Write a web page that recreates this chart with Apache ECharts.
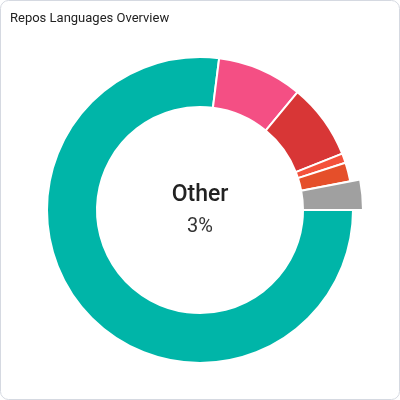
<!DOCTYPE html>
<html>
<head>
<meta charset="utf-8">
<script src="https://cdn.jsdelivr.net/npm/echarts@6/dist/echarts.min.js"></script>
<style>
html,body{margin:0;padding:0;background:#fff;}
#c{width:400px;height:400px;}
</style>
</head>
<body>
<div id="c"></div>
<script>
const categories = ['Python', 'Ruby', 'Scala', 'HTML', 'Java', 'Other'];
const values = [77, 9, 8, 1, 2, 3];
const colors = ['#00b5a8', '#f44f84', '#d83636', '#f4513b', '#e54f2a', '#a0a0a0'];
const highlightIndex = 5;

const chart = echarts.init(document.getElementById('c'), null, {renderer: 'canvas'});
chart.setOption({
  animation: false,
  title: {
    text: 'Repos Languages Overview',
    left: 5, top: 7,
    textStyle: {fontFamily: 'Roboto', fontSize: 13, fontWeight: 'normal', color: '#222'}
  },
  graphic: [{
    type: 'rect', silent: true,
    shape: {x: 0.5, y: 0.5, width: 399, height: 399, r: 8},
    style: {fill: 'none', stroke: '#d5d9e1', lineWidth: 1}
  }],
  series: [{
    type: 'pie',
    center: [200, 210],
    radius: [103, 153],
    startAngle: 0,
    clockwise: true,
    avoidLabelOverlap: false,
    itemStyle: {borderColor: '#fff', borderWidth: 2},
    label: {
      show: false, position: 'center',
      formatter: '{n|{b}}\n{p|{d}%}',
      rich: {
        n: {fontFamily: 'Roboto', fontSize: 23, fontWeight: 500, color: '#222', lineHeight: 34},
        p: {fontFamily: 'Roboto', fontSize: 20, fontWeight: 'normal', color: '#333', lineHeight: 30}
      }
    },
    emphasis: {
      scale: true, scaleSize: 10,
      label: {show: true}
    },
    labelLine: {show: false},
    data: categories.map((n, i) => ({
      name: n, value: values[i],
      itemStyle: {color: colors[i]},
      emphasis: {itemStyle: {color: colors[i]}}
    }))
  }]
});
chart.dispatchAction({type: 'highlight', seriesIndex: 0, dataIndex: highlightIndex});
</script>
</body>
</html>
